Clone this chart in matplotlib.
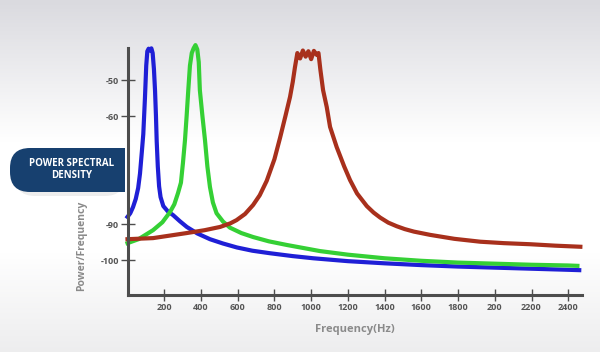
import matplotlib
matplotlib.use("Agg")
import matplotlib.pyplot as plt
import numpy as np
from matplotlib.patches import FancyBboxPatch, Rectangle

# ---------------- data ----------------
blue_f = [0, 15, 30, 45, 58, 68, 78, 86, 95, 102, 108, 115, 122, 130, 137, 144, 150, 155,
          159, 165, 172, 180, 195, 220, 248, 285, 323, 380, 449, 520, 596, 680, 776, 900,
          1012, 1200, 1400, 1600, 1800, 2000, 2200, 2400, 2460]
blue_v = [-88.0, -87.0, -85.3, -83.0, -80.0, -76.0, -70.0, -65.0, -55.0, -46.0, -42.0, -41.3,
          -41.8, -41.2, -42.5, -47.0, -53.0, -60.0, -67.0, -74.0, -79.5, -82.5, -85.0, -86.5,
          -87.5, -89.2, -90.8, -92.6, -94.2, -95.4, -96.5, -97.4, -98.1, -98.9, -99.5, -100.3,
          -100.9, -101.4, -101.8, -102.1, -102.4, -102.7, -102.8]

green_f = [0, 60, 139, 190, 231, 255, 275, 291, 302, 313, 322, 331, 340, 350, 360, 370, 380,
           388, 394, 408, 422, 435, 449, 465, 485, 520, 558, 620, 684, 770, 867, 1048, 1200,
           1400, 1600, 1800, 2000, 2200, 2400, 2450]
green_v = [-95.3, -94.2, -91.7, -89.5, -86.7, -84.5, -81.4, -78.5, -73.0, -66.7, -60.0, -52.8,
           -46.0, -42.5, -41.2, -40.3, -41.5, -45.0, -52.8, -60.0, -66.7, -74.0, -79.7, -84.0,
           -87.0, -89.3, -91.0, -92.5, -93.6, -94.8, -95.8, -97.5, -98.5, -99.5, -100.2,
           -100.7, -101.0, -101.3, -101.5, -101.6]

red_f = [0, 139, 322, 420, 504, 560, 594, 640, 684, 720, 758, 800, 831, 860, 885, 900, 912,
         925, 940, 955, 970, 985, 1000, 1015, 1030, 1040, 1050, 1065, 1085, 1103, 1139, 1180,
         1212, 1250, 1303, 1340, 1376, 1420, 1466, 1510, 1560, 1648, 1780, 1921, 2050, 2193,
         2330, 2466]
red_v = [-94.2, -93.9, -92.5, -91.7, -90.8, -89.8, -88.9, -87.2, -84.7, -82.0, -78.0, -72.0,
         -66.0, -60.0, -54.7, -50.5, -46.4, -42.5, -44.0, -41.8, -43.5, -42.0, -44.2, -41.9,
         -43.0, -42.5, -47.0, -52.8, -57.5, -63.0, -68.6, -74.0, -77.8, -81.5, -85.0, -86.8,
         -88.2, -89.6, -90.6, -91.4, -92.1, -93.0, -94.1, -94.9, -95.3, -95.6, -96.0, -96.3]

x_ticks = [200, 400, 600, 800, 1000, 1200, 1400, 1600, 1800, 2000, 2200, 2400]
x_tick_labels = ["200", "400", "600", "800", "1000", "1200", "1400", "1600", "1800", "200",
                 "2200", "2400"]
y_ticks = [-100, -90, -60, -50]
y_tick_labels = ["-100", "-90", "-60", "-50"]

# ---------------- figure ----------------
W, H = 600, 352
fig = plt.figure(figsize=(W / 100, H / 100), dpi=100)

# background gradient
bg = fig.add_axes([0, 0, 1, 1], zorder=-10)
rows = np.linspace(0, 1, 200)
top_c = np.array([0.855, 0.855, 0.875])
mid_c = np.array([1.0, 1.0, 1.0])
bot_c = np.array([0.93, 0.93, 0.935])
img = np.zeros((200, 1, 3))
for i, r in enumerate(rows):
    if r < 0.40:
        t = r / 0.40
        img[i, 0] = top_c * (1 - t) + mid_c * t
    elif r < 0.72:
        img[i, 0] = mid_c
    else:
        t = (r - 0.72) / 0.28
        img[i, 0] = mid_c * (1 - t) + bot_c * t
bg.imshow(img, aspect="auto", extent=[0, 1, 0, 1], origin="upper")
bg.set_axis_off()

ax = fig.add_axes([127.5 / W, 1 - 295 / H, (582 - 127.5) / W, (295 - 48) / H])
ax.patch.set_alpha(0)

ax.plot(blue_f, blue_v, color="#1f1fd6", lw=3.0, clip_on=False, zorder=3,
        solid_joinstyle="round")
ax.plot(green_f, green_v, color="#35d035", lw=3.0, clip_on=False, zorder=4,
        solid_joinstyle="round")
ax.plot(red_f, red_v, color="#a8301c", lw=3.0, clip_on=False, zorder=5,
        solid_joinstyle="round")

ax.set_xlim(0, 2475)
ax.set_ylim(-109.7, -41.1)

for s in ["top", "right"]:
    ax.spines[s].set_visible(False)
for s in ["left", "bottom"]:
    ax.spines[s].set_color("#4d4d4d")
    ax.spines[s].set_linewidth(2.2)
    ax.spines[s].set_zorder(6)

tick_font = dict(family="Open Sans", weight="bold", size=6.5)
ax.set_xticks(x_ticks)
ax.set_xticklabels(x_tick_labels, color="#555555", fontdict=tick_font)
ax.set_yticks(y_ticks)
ax.set_yticklabels(y_tick_labels, color="#555555", fontdict=tick_font)
ax.tick_params(axis="x", direction="inout", length=9, width=1.0, color="#4d4d4d", pad=1)
ax.tick_params(axis="y", direction="inout", length=10, width=1.0, color="#4d4d4d", pad=1)

ax.set_xlabel("Frequency(Hz)", family="Open Sans", weight="bold", size=8, color="#8a8a8a",
              labelpad=9)
fig.text(82 / W, 1 - 246 / H, "Power/Frequency", rotation=90, ha="center", va="center",
         family="Open Sans", weight="bold", size=7.5, color="#8a8a8a")

# POWER SPECTRAL DENSITY label box (in inches)
x0, x1 = 0.10, 1.25
y0, y1 = 1.60, 2.04
shadow = FancyBboxPatch((x0 + 0.05, y0 - 0.04), (x1 - x0) - 0.05, (y1 - y0),
                        boxstyle="round,pad=0,rounding_size=0.2",
                        transform=fig.dpi_scale_trans, facecolor="#000000", alpha=0.07,
                        edgecolor="none", zorder=9)
fig.patches.append(shadow)
box = FancyBboxPatch((x0, y0), x1 - x0, y1 - y0,
                     boxstyle="round,pad=0,rounding_size=0.2",
                     transform=fig.dpi_scale_trans, facecolor="#17406f",
                     edgecolor="none", zorder=10)
fig.patches.append(box)
sq = Rectangle((x1 - 0.3, y0), 0.3, y1 - y0, transform=fig.dpi_scale_trans,
               facecolor="#17406f", edgecolor="none", zorder=10)
fig.patches.append(sq)
fig.text(72 / W, 1 - 163 / H, "POWER SPECTRAL", ha="center", va="center", color="white",
         family="Open Sans", weight="bold", size=7, zorder=11)
fig.text(72 / W, 1 - 176 / H, "DENSITY", ha="center", va="center", color="white",
         family="Open Sans", weight="bold", size=7, zorder=11)

fig.savefig("out.png", dpi=100)
